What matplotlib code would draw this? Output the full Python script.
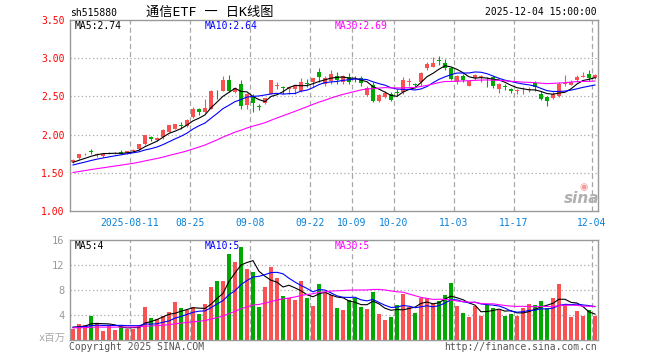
import numpy as np
import pandas as pd
import matplotlib
matplotlib.use('Agg')
import matplotlib.pyplot as plt

# 515880 daily k-line, 2025-07-28 .. 2025-12-04 (88 trading days)
opens = [1.64, 1.69, 1.74, 1.785, 1.735, 1.715, 1.75, 1.755, 1.77, 1.755,
         1.78, 1.81, 1.875, 1.975, 1.93, 1.965, 2.04, 2.075, 2.13, 2.11,
         2.225, 2.335, 2.29, 2.335, 2.575, 2.575, 2.715, 2.555, 2.665, 2.39,
         2.51, 2.37, 2.415, 2.53, 2.64, 2.62, 2.60, 2.60, 2.565, 2.665,
         2.685, 2.825, 2.665, 2.705, 2.765, 2.685, 2.75, 2.74, 2.74, 2.52,
         2.65, 2.445, 2.49, 2.53, 2.55, 2.555, 2.69, 2.665, 2.695, 2.875,
         2.89, 2.97, 2.94, 2.87, 2.695, 2.77, 2.64, 2.74, 2.76, 2.74,
         2.75, 2.60, 2.63, 2.60, 2.57, 2.565, 2.585, 2.675, 2.53, 2.495,
         2.485, 2.51, 2.665, 2.65, 2.72, 2.755, 2.79, 2.735]
highs = [1.68, 1.75, 1.76, 1.81, 1.755, 1.75, 1.77, 1.77, 1.80, 1.785,
         1.81, 1.88, 2.00, 1.985, 1.975, 2.07, 2.13, 2.145, 2.16, 2.20,
         2.36, 2.345, 2.46, 2.59, 2.58, 2.765, 2.78, 2.62, 2.71, 2.54,
         2.53, 2.40, 2.48, 2.72, 2.695, 2.64, 2.64, 2.645, 2.74, 2.73,
         2.745, 2.87, 2.765, 2.84, 2.815, 2.78, 2.81, 2.77, 2.77, 2.63,
         2.685, 2.53, 2.575, 2.555, 2.595, 2.75, 2.74, 2.67, 2.815, 2.945,
         3.01, 3.035, 2.99, 2.88, 2.78, 2.795, 2.705, 2.795, 2.775, 2.76,
         2.765, 2.675, 2.665, 2.61, 2.60, 2.62, 2.62, 2.705, 2.565, 2.51,
         2.555, 2.685, 2.78, 2.72, 2.785, 2.815, 2.845, 2.795]
lows = [1.63, 1.685, 1.73, 1.745, 1.71, 1.71, 1.745, 1.75, 1.75, 1.75,
        1.775, 1.80, 1.87, 1.92, 1.92, 1.94, 2.03, 2.07, 2.075, 2.10,
        2.22, 2.255, 2.285, 2.33, 2.465, 2.57, 2.555, 2.55, 2.335, 2.335,
        2.30, 2.32, 2.405, 2.525, 2.60, 2.53, 2.53, 2.53, 2.56, 2.62,
        2.62, 2.685, 2.64, 2.66, 2.665, 2.665, 2.665, 2.695, 2.64, 2.50,
        2.43, 2.425, 2.475, 2.435, 2.51, 2.53, 2.64, 2.605, 2.64, 2.85,
        2.88, 2.91, 2.85, 2.72, 2.665, 2.685, 2.63, 2.72, 2.695, 2.62,
        2.615, 2.545, 2.59, 2.545, 2.53, 2.53, 2.555, 2.575, 2.455, 2.38,
        2.465, 2.49, 2.64, 2.645, 2.695, 2.75, 2.705, 2.73]
closes = [1.67, 1.745, 1.745, 1.775, 1.745, 1.745, 1.755, 1.76, 1.765, 1.78,
          1.80, 1.875, 1.99, 1.945, 1.96, 2.06, 2.125, 2.135, 2.11, 2.195,
          2.335, 2.30, 2.35, 2.575, 2.565, 2.715, 2.565, 2.605, 2.38, 2.53,
          2.415, 2.36, 2.475, 2.715, 2.645, 2.615, 2.62, 2.63, 2.685, 2.66,
          2.74, 2.76, 2.74, 2.795, 2.71, 2.765, 2.685, 2.735, 2.67, 2.605,
          2.445, 2.52, 2.54, 2.455, 2.545, 2.72, 2.695, 2.645, 2.805, 2.925,
          2.94, 2.965, 2.87, 2.73, 2.765, 2.72, 2.70, 2.78, 2.765, 2.735,
          2.64, 2.66, 2.625, 2.565, 2.58, 2.57, 2.59, 2.62, 2.465, 2.44,
          2.53, 2.665, 2.67, 2.69, 2.755, 2.76, 2.745, 2.775]
# volume, millions
volumes = [1.76, 2.56, 2.4, 3.9, 2.67, 1.5, 2.4, 1.6, 2.4, 1.76,
           1.76, 2.4, 5.3, 3.5, 3.4, 3.9, 4.5, 6.1, 5.1, 4.8,
           5.3, 4.2, 5.8, 8.5, 9.4, 9.4, 13.8, 12.5, 14.9, 11.4,
           10.9, 5.3, 8.5, 11.7, 9.9, 7.0, 6.7, 6.4, 9.4, 6.7,
           5.4, 9.0, 7.7, 7.2, 5.1, 4.8, 6.4, 6.7, 5.3, 5.0,
           7.7, 4.2, 3.2, 3.7, 5.6, 7.4, 5.3, 4.3, 6.7, 6.7,
           5.9, 6.2, 7.2, 9.1, 5.4, 4.3, 3.7, 5.4, 3.8, 5.6,
           5.1, 4.8, 3.8, 4.2, 3.8, 5.1, 5.8, 5.6, 6.2, 5.1,
           6.7, 9.0, 5.6, 3.7, 4.6, 3.8, 4.8, 3.8]

# 29 sessions before the window, only to warm up the moving averages
pre_closes = [1.36, 1.37, 1.38, 1.39, 1.40, 1.41, 1.41, 1.42, 1.43, 1.43,
              1.45, 1.46, 1.48, 1.49, 1.50, 1.51, 1.53, 1.54, 1.56, 1.57,
              1.55, 1.56, 1.57, 1.57, 1.59, 1.61, 1.62, 1.64, 1.645]
pre_volumes = [1.8, 2.2, 1.6, 2.0, 1.7, 2.3, 1.9, 1.5, 2.1, 1.8,
               2.0, 1.6, 2.4, 1.9, 1.7, 2.2, 1.8, 1.6, 2.0, 1.9,
               2.1, 1.7, 2.3, 1.8, 2.0, 2.2, 1.9, 2.1, 2.3]

holidays = ['2025-10-01', '2025-10-02', '2025-10-03', '2025-10-06', '2025-10-07', '2025-10-08']
tick_dates = ['2025-08-11', '2025-08-25', '2025-09-08', '2025-09-22', '2025-10-09',
              '2025-10-20', '2025-11-03', '2025-11-17', '2025-12-04']
tick_labels = ['2025-08-11', '08-25', '09-08', '09-22', '10-09', '10-20', '11-03', '11-17', '12-04']
price_ticks = [1.0, 1.5, 2.0, 2.5, 3.0, 3.5]
vol_ticks = [4, 8, 12, 16]

RED = '#fa5252'
GREEN = '#00a800'
GRID = '#a8a8a8'
SPINE = '#999999'
MONO = 'DejaVu Sans Mono'
CJK = [MONO, 'Noto Sans CJK SC', 'DejaVu Sans']

W, H = 660, 360


def px(x, y):
    return x / W, 1 - y / H


def ma(pre, vals, n):
    s = pd.Series(list(pre) + list(vals)).rolling(n).mean().values
    return s[len(pre):]


days = pd.bdate_range('2025-07-28', '2025-12-04')
days = days[~days.isin(pd.to_datetime(holidays))]
tick_pos = [days.get_loc(pd.Timestamp(d)) for d in tick_dates]

o, h, l, c = map(np.array, (opens, highs, lows, closes))
v = np.array(volumes)
x = np.arange(len(c)) + 0.5
cols = np.where(c >= o, RED, GREEN)

fig = plt.figure(figsize=(6.6, 3.6), dpi=100)
ax = fig.add_axes([70 / W, 1 - 211 / H, 528 / W, 191 / H])
axv = fig.add_axes([70 / W, 1 - 340 / H, 528 / W, 100 / H])

for a in (ax, axv):
    a.set_xlim(0, len(c))
    for s in a.spines.values():
        s.set_color(SPINE)
        s.set_linewidth(1.0)
    for t in tick_pos:
        a.axvline(t, color=GRID, lw=0.9, ls=(0, (4, 2.5)), zorder=0)
    a.tick_params(length=0)

# price panel
ax.set_ylim(1.0, 3.5)
for yv in price_ticks[1:-1]:
    ax.axhline(yv, color=GRID, lw=0.9, ls=(0, (1, 2)), zorder=0)
ax.vlines(x, l, h, colors=cols, lw=0.8, zorder=2)
ax.bar(x, np.maximum(np.abs(c - o), 0.009), bottom=np.minimum(o, c),
       width=0.75, color=cols, linewidth=0, zorder=3)
ax.plot(x, ma(pre_closes, c, 5), color='black', lw=0.8, zorder=4)
ax.plot(x, ma(pre_closes, c, 10), color='#0000ff', lw=0.8, zorder=4)
ax.plot(x, ma(pre_closes, c, 30), color='#ff00ff', lw=0.8, zorder=4)
ax.set_yticks(price_ticks)
ax.set_yticklabels(['%.2f' % p for p in price_ticks], color='#ff0000',
                   family=MONO, fontsize=7)
ax.set_xticks(tick_pos)
ax.set_xticklabels(tick_labels, color='#0a80d8', family=MONO, fontsize=7)
ax.tick_params(axis='x', pad=5)
ax.tick_params(axis='y', pad=4)

# volume panel
axv.set_ylim(0, 16)
for yv in vol_ticks[:-1]:
    axv.axhline(yv, color=GRID, lw=0.9, ls=(0, (1, 2)), zorder=0)
axv.bar(x, v, width=0.82, color=cols, linewidth=0, zorder=2)
axv.plot(x, ma(pre_volumes, v, 5), color='black', lw=0.8, zorder=4)
axv.plot(x, ma(pre_volumes, v, 10), color='#0000ff', lw=0.8, zorder=4)
axv.plot(x, ma(pre_volumes, v, 30), color='#ff00ff', lw=0.8, zorder=4)
axv.set_yticks(vol_ticks)
axv.set_yticklabels([str(t) for t in vol_ticks], color='#999999',
                    family=MONO, fontsize=7.5)
axv.set_xticks([])
axv.tick_params(axis='y', pad=4)

# texts
fig.text(*px(70, 13), 'sh515880', family=MONO, fontsize=7, va='center')
fig.text(*px(210, 12), '通信ETF 一 日K线图', family=CJK, fontsize=9.5,
         ha='center', va='center')
fig.text(*px(597, 12), '2025-12-04 15:00:00', family=MONO, fontsize=7,
         ha='right', va='center')
fig.text(*px(75, 26), 'MA5:2.74', family=MONO, fontsize=7, va='center', color='black')
fig.text(*px(205, 26), 'MA10:2.64', family=MONO, fontsize=7, va='center', color='#0000ff')
fig.text(*px(335, 26), 'MA30:2.69', family=MONO, fontsize=7, va='center', color='#ff00ff')
fig.text(*px(75, 246), 'MA5:4', family=MONO, fontsize=7, va='center', color='black')
fig.text(*px(205, 246), 'MA10:5', family=MONO, fontsize=7, va='center', color='#0000ff')
fig.text(*px(335, 246), 'MA30:5', family=MONO, fontsize=7, va='center', color='#ff00ff')
fig.text(*px(66, 338), 'x百万', family=CJK, fontsize=7.5, ha='right', va='center',
         color='#aaaaaa')
fig.text(*px(69, 347), 'Copyright 2025 SINA.COM', family=MONO, fontsize=7,
         va='center', color='#555555')
fig.text(*px(597, 347), 'http://finance.sina.com.cn', family=MONO, fontsize=7,
         ha='right', va='center', color='#555555')
fig.text(*px(582, 198), 'sina', fontsize=11, fontweight='bold', style='italic',
         ha='center', va='center', color='#b0b0b0')
fig.text(*px(584, 187), '◉', fontsize=7, ha='center', va='center', color='#f29a9a')

fig.savefig('out.png', dpi=100)
